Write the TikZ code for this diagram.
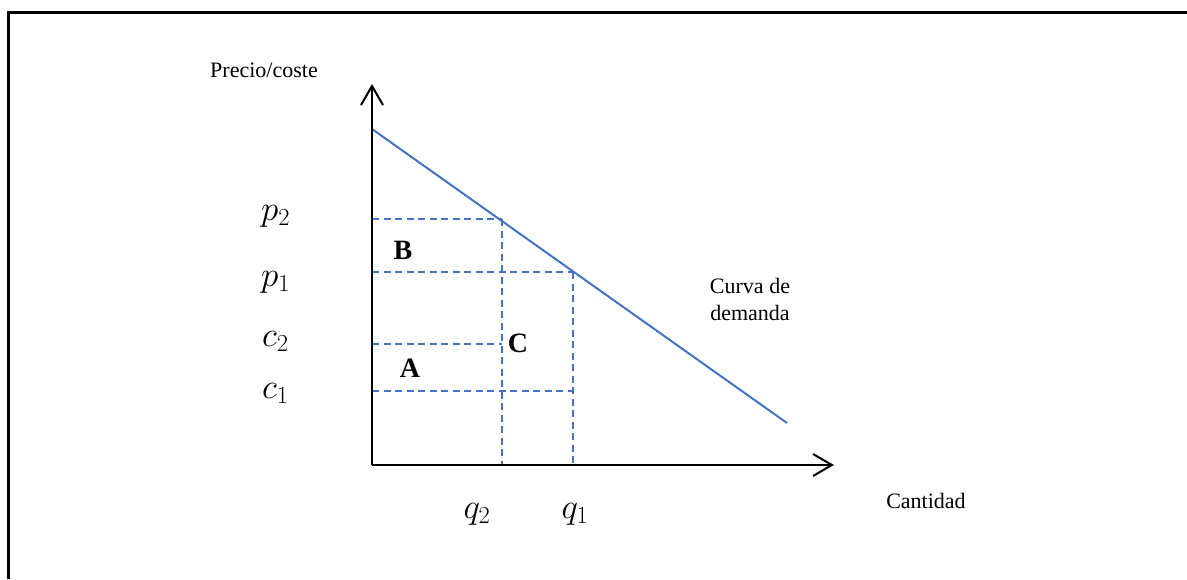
\RequirePackage{fix-cm}
\documentclass[tikz,border=0pt]{standalone}
\usepackage{fontspec}
\setmainfont{Liberation Serif}
\usetikzlibrary{arrows.meta}
\definecolor{dblue}{HTML}{4472C4}
\begin{document}
\begin{tikzpicture}[x=1pt,y=-1pt,
  axis/.style={line width=2pt, black, -{Straight Barb[length=19pt,width=22pt]}},
  demand/.style={line width=2pt, dblue},
  guide/.style={line width=1.7pt, dblue, dash pattern=on 7pt off 4.5pt},
  txt/.style={inner sep=0pt, font=\fontsize{22}{27}\selectfont},
  mlab/.style={inner sep=0pt, font=\fontsize{35}{40}\selectfont, anchor=base west},
  qlab/.style={inner sep=0pt, font=\fontsize{35}{40}\selectfont, anchor=base},
  area/.style={inner sep=0pt, font=\fontsize{28}{32}\selectfont\bfseries, anchor=base}]
\useasboundingbox (0,0) rectangle (1187,579);
% frame
\draw[line width=3pt] (8,579) -- (8,12) -- (1187,12);
% coordinates
\coordinate (O) at (372,465);
\coordinate (Ytop) at (372,84);
\coordinate (Xend) at (834,465);
\coordinate (D1) at (372,129);
\coordinate (D2) at (787,423);
\coordinate (P2pt) at (502,219);
\coordinate (P1pt) at (573,272);
\coordinate (p2y) at (372,219);
\coordinate (p1y) at (372,272);
\coordinate (c2y) at (372,344);
\coordinate (c1y) at (372,391);
\coordinate (c2e) at (502,344);
\coordinate (c1e) at (573,391);
\coordinate (q2x) at (502,465);
\coordinate (q1x) at (573,465);
% guides
\draw[guide] (p2y) -- (P2pt);
\draw[guide] (p1y) -- (P1pt);
\draw[guide] (c2y) -- (c2e);
\draw[guide] (c1y) -- (c1e);
\draw[guide] (P2pt) -- (q2x);
\draw[guide] (P1pt) -- (q1x);
% demand
\draw[demand] (D1) -- (D2);
% axes
\draw[axis] (O) -- (Ytop);
\draw[axis] (O) -- (Xend);
% labels
\node[txt, anchor=base] (ylab) at (264,77) {Precio/coste};
\node[txt, anchor=base] (xlab) at (926,508) {Cantidad};
\node[txt, align=center, anchor=center] (dlab) at (750,299) {Curva de\\demanda};
\node[mlab] (lp2) at (261,220) {$p_2$};
\node[mlab] (lp1) at (261,286) {$p_1$};
\node[mlab] (lc2) at (262,346) {$c_2$};
\node[mlab] (lc1) at (262,398) {$c_1$};
\node[qlab] (lq2) at (477,518) {$q_2$};
\node[qlab] (lq1) at (575,518) {$q_1$};
\node[area] (aB) at (403,259) {B};
\node[area] (aA) at (410,377) {A};
\node[area] (aC) at (518,352) {C};
\end{tikzpicture}
\end{document}
